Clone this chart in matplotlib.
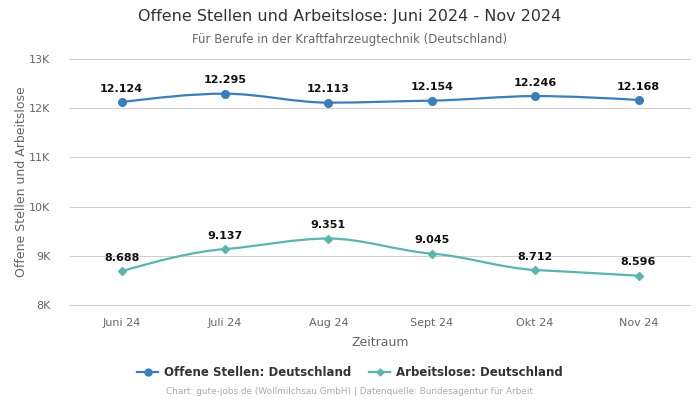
import numpy as np
import matplotlib.pyplot as plt
from matplotlib.path import Path
from matplotlib.patches import PathPatch
from matplotlib.lines import Line2D

plt.rcParams['font.family'] = ['DejaVu Sans']

months = ["Juni 24", "Juli 24", "Aug 24", "Sept 24", "Okt 24", "Nov 24"]
offene = [12124, 12295, 12113, 12154, 12246, 12168]
arbeitslose = [8688, 9137, 9351, 9045, 8712, 8596]
yticks = [8000, 9000, 10000, 11000, 12000, 13000]
ytick_labels = ["8K", "9K", "10K", "11K", "12K", "13K"]

c_off = "#3a7fba"
c_arb = "#5ab4b0"


def monotone_path(x, y):
    # monotone cubic (like d3 curveMonotoneX) as bezier path
    x = np.asarray(x, float)
    y = np.asarray(y, float)
    n = len(x)
    h = np.diff(x)
    d = np.diff(y) / h
    m = np.zeros(n)
    for i in range(1, n - 1):
        if d[i - 1] * d[i] <= 0:
            m[i] = 0
        else:
            p = (d[i - 1] * h[i] + d[i] * h[i - 1]) / (h[i - 1] + h[i])
            m[i] = np.sign(d[i - 1]) * min(abs(d[i - 1]), abs(d[i]), 0.5 * abs(p))
    m[0] = (3 * d[0] - m[1]) / 2 if n > 2 else d[0]
    m[-1] = (3 * d[-1] - m[-2]) / 2 if n > 2 else d[-1]
    verts = [(x[0], y[0])]
    codes = [Path.MOVETO]
    for i in range(n - 1):
        dx = h[i] / 3
        verts += [(x[i] + dx, y[i] + m[i] * dx),
                  (x[i + 1] - dx, y[i + 1] - m[i + 1] * dx),
                  (x[i + 1], y[i + 1])]
        codes += [Path.CURVE4] * 3
    return Path(verts, codes)


fig = plt.figure(figsize=(7, 4), dpi=100)
ax = fig.add_axes([0.1, 0.2375, 0.886, 0.615])

xs = np.arange(len(months))
for vals, col, mk, ms in [(offene, c_off, "o", 5.5), (arbeitslose, c_arb, "D", 3.8)]:
    ax.add_patch(PathPatch(monotone_path(xs, vals), facecolor="none",
                           edgecolor=col, lw=1.6, zorder=3))
    ax.plot(xs, vals, ls="none", marker=mk, ms=ms, color=col, zorder=4)
    for xi, v in zip(xs, vals):
        ax.annotate(f"{v/1000:.3f}", (xi, v), xytext=(0, 6), textcoords="offset points",
                    ha="center", va="bottom", fontsize=8, fontweight="bold",
                    color="#111111", zorder=5)

ax.set_xlim(-0.5, len(months) - 0.5)
ax.set_ylim(8000, 13000)
ax.set_xticks(xs)
ax.set_xticklabels(months)
ax.set_yticks(yticks)
ax.set_yticklabels(ytick_labels)
ax.tick_params(axis="both", length=0, labelsize=8, colors="#666666")
ax.tick_params(axis="x", pad=9)
ax.tick_params(axis="y", pad=14)
ax.grid(axis="y", color="#d0d0d0", lw=0.8)
for gl in ax.get_ygridlines():
    gl.set_clip_on(False)
ax.set_axisbelow(True)
for s in ax.spines.values():
    s.set_visible(False)
ax.set_xlabel("Zeitraum", fontsize=9, color="#666666", labelpad=6)
ax.set_ylabel("Offene Stellen und Arbeitslose", fontsize=9, color="#666666", labelpad=1)

fig.text(0.5, 1 - 17 / 400, "Offene Stellen und Arbeitslose: Juni 2024 - Nov 2024",
         ha="center", va="center", fontsize=11.5, color="#333333")
fig.text(0.5, 1 - 39 / 400, "Für Berufe in der Kraftfahrzeugtechnik (Deutschland)",
         ha="center", va="center", fontsize=8.5, color="#666666")

handles = [Line2D([], [], color=c_off, marker="o", ms=5, lw=1.6),
           Line2D([], [], color=c_arb, marker="D", ms=3.5, lw=1.6)]
fig.legend(handles, ["Offene Stellen: Deutschland", "Arbeitslose: Deutschland"],
           loc="center", bbox_to_anchor=(0.5, 1 - 373 / 400), ncol=2, frameon=False,
           prop={"size": 8.5, "weight": "bold"}, labelcolor="#333333",
           handlelength=1.8, columnspacing=1.5, handletextpad=0.5)
fig.text(0.5, 1 - 392 / 400,
         "Chart: gute-jobs.de (Wollmilchsau GmbH) | Datenquelle: Bundesagentur für Arbeit",
         ha="center", va="center", fontsize=6.4, color="#aaaaaa")

fig.savefig("out.png", dpi=100)
